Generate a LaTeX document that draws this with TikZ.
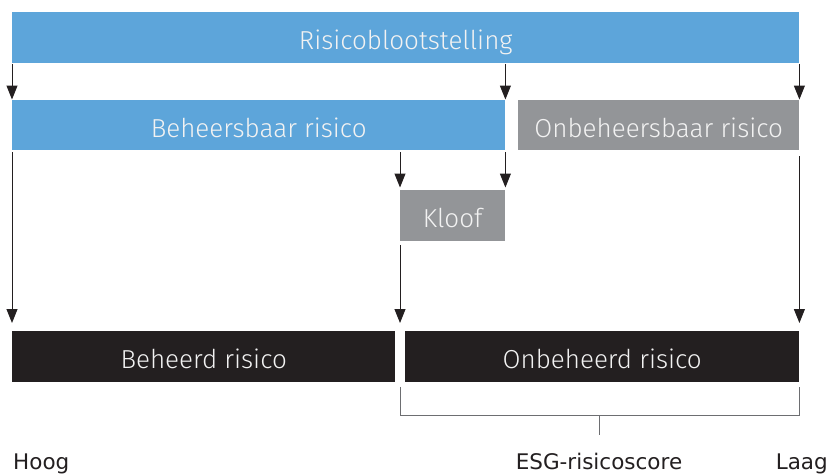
\documentclass[tikz,border=0pt]{standalone}
\usepackage{fontspec}
\setmainfont{DejaVu Sans}
\newfontfamily\boxfont{Fira Sans Light}
\usetikzlibrary{arrows.meta,calc}
\definecolor{cblue}{HTML}{5DA5DA}
\definecolor{cgray}{HTML}{939598}
\definecolor{cblack}{HTML}{231F20}
\definecolor{clight}{HTML}{F2F2F2}
\definecolor{cline}{HTML}{6D6E71}
\begin{document}
\begin{tikzpicture}[x=1pt,y=-1pt,
  bar/.style={anchor=north west,inner sep=0pt,minimum height=50.5pt,
    text height=25pt,text depth=0pt,
    text=clight,font=\boxfont\fontsize{26}{26}\selectfont},
  arr/.style={draw=cblack,line width=1pt,-{Triangle[length=14pt,width=11pt]}},
  conn/.style={draw=cline,line width=0.9pt},
  lab/.style={font=\fontsize{21.5}{21.5}\selectfont,text=cblack,inner sep=0pt,anchor=base}]
\useasboundingbox (0,0) rectangle (829,475);
\node[bar,fill=cblue,minimum width=787pt] (top) at (12,12) {Risicoblootstelling};
\node[bar,fill=cblue,minimum width=493pt] (beh) at (12,99.5) {Beheersbaar risico};
\node[bar,fill=cgray,minimum width=281pt] (onb) at (518,99.5) {Onbeheersbaar risico};
\node[bar,fill=cgray,minimum width=105pt] (kloof) at (400,190) {Kloof};
\node[bar,fill=cblack,minimum width=383pt] (bd) at (12,331) {Beheerd risico};
\node[bar,fill=cblack,minimum width=394pt] (obd) at (405,331) {Onbeheerd risico};
% arrows row 1
\draw[arr] ([yshift=-1pt]top.south west) -- (beh.north west);
\draw[arr] ([yshift=-1pt]top.south west -| beh.north east) -- (beh.north east);
\draw[arr] ([yshift=-1pt]top.south east) -- (onb.north east);
% arrows row 2
\coordinate (k1) at (kloof.north west);
\draw[arr] ([yshift=-2pt]beh.south west -| k1) -- ([yshift=2.5pt]kloof.north west);
\draw[arr] ([yshift=-2pt]beh.south east) -- ([yshift=2.5pt]kloof.north east);
% long arrows
\draw[arr] ([yshift=-2pt]beh.south west) -- ([yshift=8pt]bd.north west);
\draw[arr] ([yshift=-4pt]kloof.south west) -- ([yshift=8pt]kloof.south west |- bd.north);
\draw[arr] ([yshift=-6pt]onb.south east) -- ([yshift=8pt]obd.north east);
% bracket
\coordinate (bl) at ([yshift=-5pt]kloof.south west |- obd.south);
\coordinate (br) at ([yshift=-5pt]obd.south east);
\coordinate (bly) at ([yshift=-34pt]kloof.south west |- obd.south);
\coordinate (bry) at ([yshift=-34pt]obd.south east);
\coordinate (bm) at ($(bly)!0.5!(bry)$);
\draw[conn] (bl) -- (bly) -- (bry) -- (br);
\draw[conn] (bm) -- ++(0,19) coordinate (bt);
\node[lab] (esg) at (599,469.5) {ESG-risicoscore};
\node[lab,anchor=base west] (hoog) at (13,469.5) {Hoog};
\node[lab,anchor=base east] (laag) at (828,469.5) {Laag};
\end{tikzpicture}
\end{document}
